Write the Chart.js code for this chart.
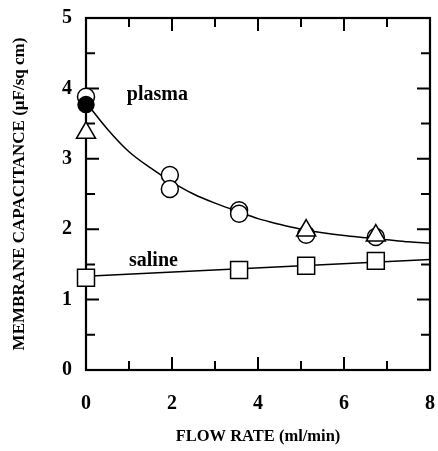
<!DOCTYPE html>
<html>
<head>
<meta charset="utf-8">
<script src="https://cdn.jsdelivr.net/npm/chart.js@4/dist/chart.umd.min.js"></script>
<style>
  html, body { margin: 0; padding: 0; background: #fff; }
  #wrap { width: 438px; height: 451px; }
</style>
</head>
<body>
<div id="wrap"><canvas id="c" width="438" height="451"></canvas></div>
<script>
// ---- data ----
const xTicks = [0, 2, 4, 6, 8];
const yTicks = [0, 1, 2, 3, 4, 5];

// plasma: open circles
const plasmaOpenX = [0, 1.95, 1.95, 3.56, 3.56, 5.12, 6.74];
const plasmaOpenY = [3.88, 2.77, 2.57, 2.27, 2.22, 1.92, 1.89];
// plasma: filled circle
const plasmaFilledX = [0];
const plasmaFilledY = [3.77];
// plasma: open triangles
const plasmaTriX = [0, 5.12, 6.74];
const plasmaTriY = [3.37, 1.98, 1.91];
// saline: open squares
const salineX = [0, 3.56, 5.12, 6.74];
const salineY = [1.31, 1.42, 1.48, 1.55];

// fitted curve through plasma
const plasmaCurveX = [0, 0.5, 1, 1.5, 2, 2.5, 3, 3.5, 4, 4.5, 5, 5.5, 6, 6.5, 7, 7.5, 8];
const plasmaCurveY = [3.80, 3.42, 3.10, 2.87, 2.67, 2.50, 2.37, 2.26, 2.15, 2.07, 2.00, 1.95, 1.91, 1.88, 1.85, 1.82, 1.80];
// fitted line through saline
const salineLineX = [0, 8];
const salineLineY = [1.33, 1.57];

const labels = [
  { text: 'plasma', x: 0.95, y: 3.91 },
  { text: 'saline', x: 1.0, y: 1.55 }
];

const zip = (xs, ys) => xs.map((x, i) => ({ x, y: ys[i] }));
const SERIF = '"Liberation Serif", "Times New Roman", serif';

const frameTicks = {
  id: 'frameTicks',
  beforeDatasetsDraw(chart) {
    const { ctx, chartArea: a, scales: { x, y } } = chart;
    ctx.save();
    ctx.strokeStyle = '#000';
    ctx.lineWidth = 2.2;
    ctx.lineCap = 'square';
    ctx.strokeRect(a.left, a.top, a.right - a.left, a.bottom - a.top);
    ctx.lineWidth = 2;
    ctx.lineCap = 'butt';
    ctx.beginPath();
    for (let v = 1; v < 8; v += 1) {
      const len = v % 2 === 0 ? 13 : 9;
      const px = x.getPixelForValue(v);
      ctx.moveTo(px, a.bottom); ctx.lineTo(px, a.bottom - len);
      ctx.moveTo(px, a.top); ctx.lineTo(px, a.top + len);
    }
    for (let v = 0.5; v < 5; v += 0.5) {
      const len = Number.isInteger(v) ? 13 : 9;
      const py = y.getPixelForValue(v);
      ctx.moveTo(a.left, py); ctx.lineTo(a.left + len, py);
      ctx.moveTo(a.right, py); ctx.lineTo(a.right - len, py);
    }
    ctx.stroke();
    ctx.restore();
  },
  afterDatasetsDraw(chart) {
    const { ctx, scales: { x, y } } = chart;
    ctx.save();
    ctx.fillStyle = '#000';
    ctx.font = 'bold 20px ' + SERIF;
    ctx.textAlign = 'left';
    ctx.textBaseline = 'middle';
    labels.forEach(l => ctx.fillText(l.text, x.getPixelForValue(l.x), y.getPixelForValue(l.y)));
    ctx.restore();
  }
};

const pointBase = { showLine: false, clip: false, borderColor: '#000', borderWidth: 1.5 };
const noPad = s => {
  s.paddingTop = 0; s.paddingBottom = 0; s.paddingLeft = 0; s.paddingRight = 0;
};

new Chart(document.getElementById('c'), {
  type: 'scatter',
  data: {
    datasets: [
      { ...pointBase, label: 'filled', data: zip(plasmaFilledX, plasmaFilledY), pointStyle: 'circle', pointRadius: 8, backgroundColor: '#000', order: 0 },
      { ...pointBase, label: 'tri', data: zip(plasmaTriX, plasmaTriY), pointStyle: 'triangle', pointRadius: 11, backgroundColor: '#fff', order: 1 },
      { ...pointBase, label: 'open', data: zip(plasmaOpenX, plasmaOpenY), pointStyle: 'circle', pointRadius: 8.5, backgroundColor: '#fff', order: 2 },
      { ...pointBase, label: 'saline', data: zip(salineX, salineY), pointStyle: 'rect', pointRadius: 12, backgroundColor: '#fff', order: 3 },
      { label: 'curve', data: zip(plasmaCurveX, plasmaCurveY), showLine: true, pointRadius: 0, borderColor: '#000', borderWidth: 1.5, tension: 0.4, cubicInterpolationMode: 'monotone', order: 4 },
      { label: 'line', data: zip(salineLineX, salineLineY), showLine: true, pointRadius: 0, borderColor: '#000', borderWidth: 1.5, order: 5 }
    ]
  },
  options: {
    responsive: false,
    animation: false,
    events: [],
    layout: { autoPadding: false, padding: { top: 18, right: 8, left: 0, bottom: 0 } },
    plugins: { legend: { display: false }, tooltip: { enabled: false } },
    scales: {
      x: {
        type: 'linear', min: 0, max: 8,
        afterBuildTicks: s => { s.ticks = xTicks.map(v => ({ value: v })); },
        afterFit: s => { s.height = 81; noPad(s); },
        grid: { display: false, drawTicks: false },
        border: { display: false },
        ticks: { color: '#000', padding: 22, font: { family: SERIF, size: 20, weight: 'bold' } },
        title: { display: true, text: 'FLOW RATE (ml/min)', color: '#000', padding: { top: 0, bottom: 4 }, font: { family: SERIF, size: 16.5, weight: 'bold' } }
      },
      y: {
        type: 'linear', min: 0, max: 5,
        afterBuildTicks: s => { s.ticks = yTicks.map(v => ({ value: v })); },
        afterFit: s => { s.width = 86; noPad(s); },
        grid: { display: false, drawTicks: false },
        border: { display: false },
        ticks: { color: '#000', padding: 14, font: { family: SERIF, size: 20, weight: 'bold' } },
        title: { display: true, text: 'MEMBRANE CAPACITANCE (µF/sq cm)', color: '#000', padding: { top: 9, bottom: 0 }, font: { family: SERIF, size: 17, weight: 'bold' } }
      }
    }
  },
  plugins: [frameTicks]
});
</script>
</body>
</html>
